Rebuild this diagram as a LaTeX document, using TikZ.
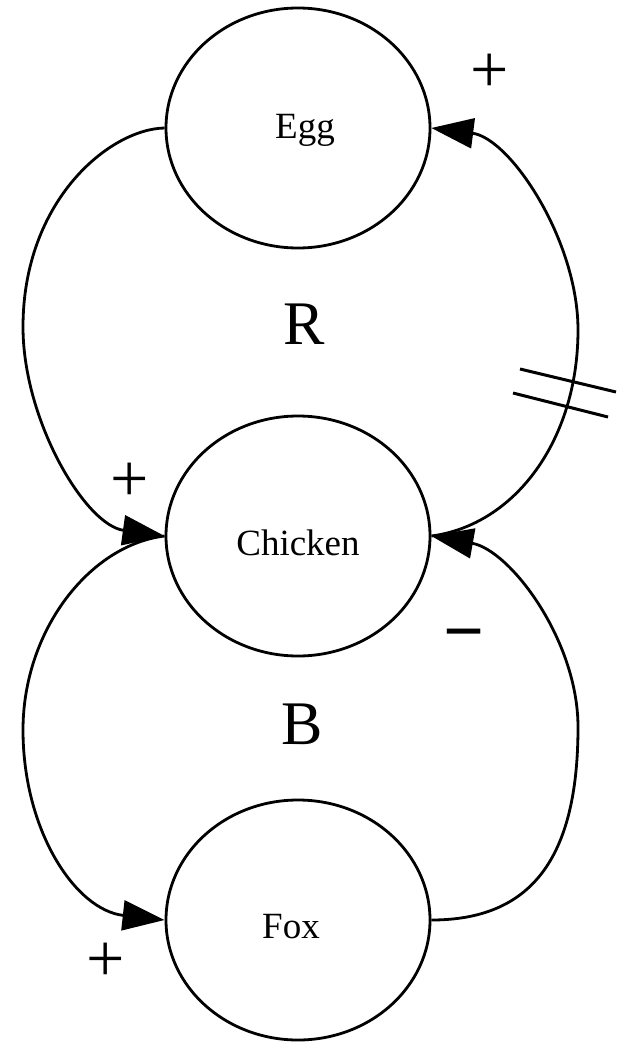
\documentclass[tikz,border=0pt]{standalone}
\usepackage{fontspec}
\setmainfont{Liberation Serif}
\usetikzlibrary{shapes.geometric,arrows.meta}
\begin{document}
\begin{tikzpicture}[x=1pt,y=-1pt,
  stock/.style={draw, ellipse, line width=2.8pt, minimum width=264pt, minimum height=240pt,
    inner sep=0pt, text height=0pt, text depth=0pt, font=\fontsize{37}{40}\selectfont},
  link/.style={draw, line width=2.8pt, -{Triangle[length=42pt,width=30pt]}},
  sign/.style={anchor=base, inner sep=0pt, font=\fontsize{68}{70}\selectfont},
  minussign/.style={anchor=base, inner sep=0pt, font=\bfseries\fontsize{72}{76}\selectfont},
  loopname/.style={anchor=base, inner sep=0pt, font=\fontsize{62}{70}\selectfont},
  delaybar/.style={line width=3pt}]
\useasboundingbox (0,0) rectangle (629,1044);

\node[stock] (egg) at (298,128) {\raisebox{-10pt}{\hspace*{14pt}Egg}};
\node[stock] (chicken) at (298,536) {\raisebox{-19pt}{Chicken}};
\node[stock] (fox) at (298,920) {\raisebox{-18pt}{Fox\hspace*{14pt}}};

\draw[link] (egg.west) .. controls (110,129) and (23,200) .. (23,327)
  .. controls (23,420) and (85,525) .. (chicken.west);
\draw[link] (chicken.west) .. controls (90,545) and (23,630) .. (23,730)
  .. controls (23,830) and (75,910) .. (fox.west);
\draw[link] (chicken.east) .. controls (515,525) and (578,440) .. (578,330)
  .. controls (578,240) and (510,138) .. (egg.east);
\draw[link] (fox.east) .. controls (530,920) and (578,860) .. (578,727)
  .. controls (578,640) and (510,550) .. (chicken.east);

\draw[delaybar] (520,369) -- (616,392);
\draw[delaybar] (513,393) -- (608,417);

\node[sign] (plusEC) at (130,501.5) {+};
\node[sign] (plusCF) at (106,981.5) {+};
\node[sign] (plusCE) at (490,92.5) {+};
\node[minussign] (minusFC) at (464.5,655) {−};
\node[loopname] (loopR) at (304,344) {R};
\node[loopname] (loopB) at (302,744) {B};
\end{tikzpicture}
\end{document}
